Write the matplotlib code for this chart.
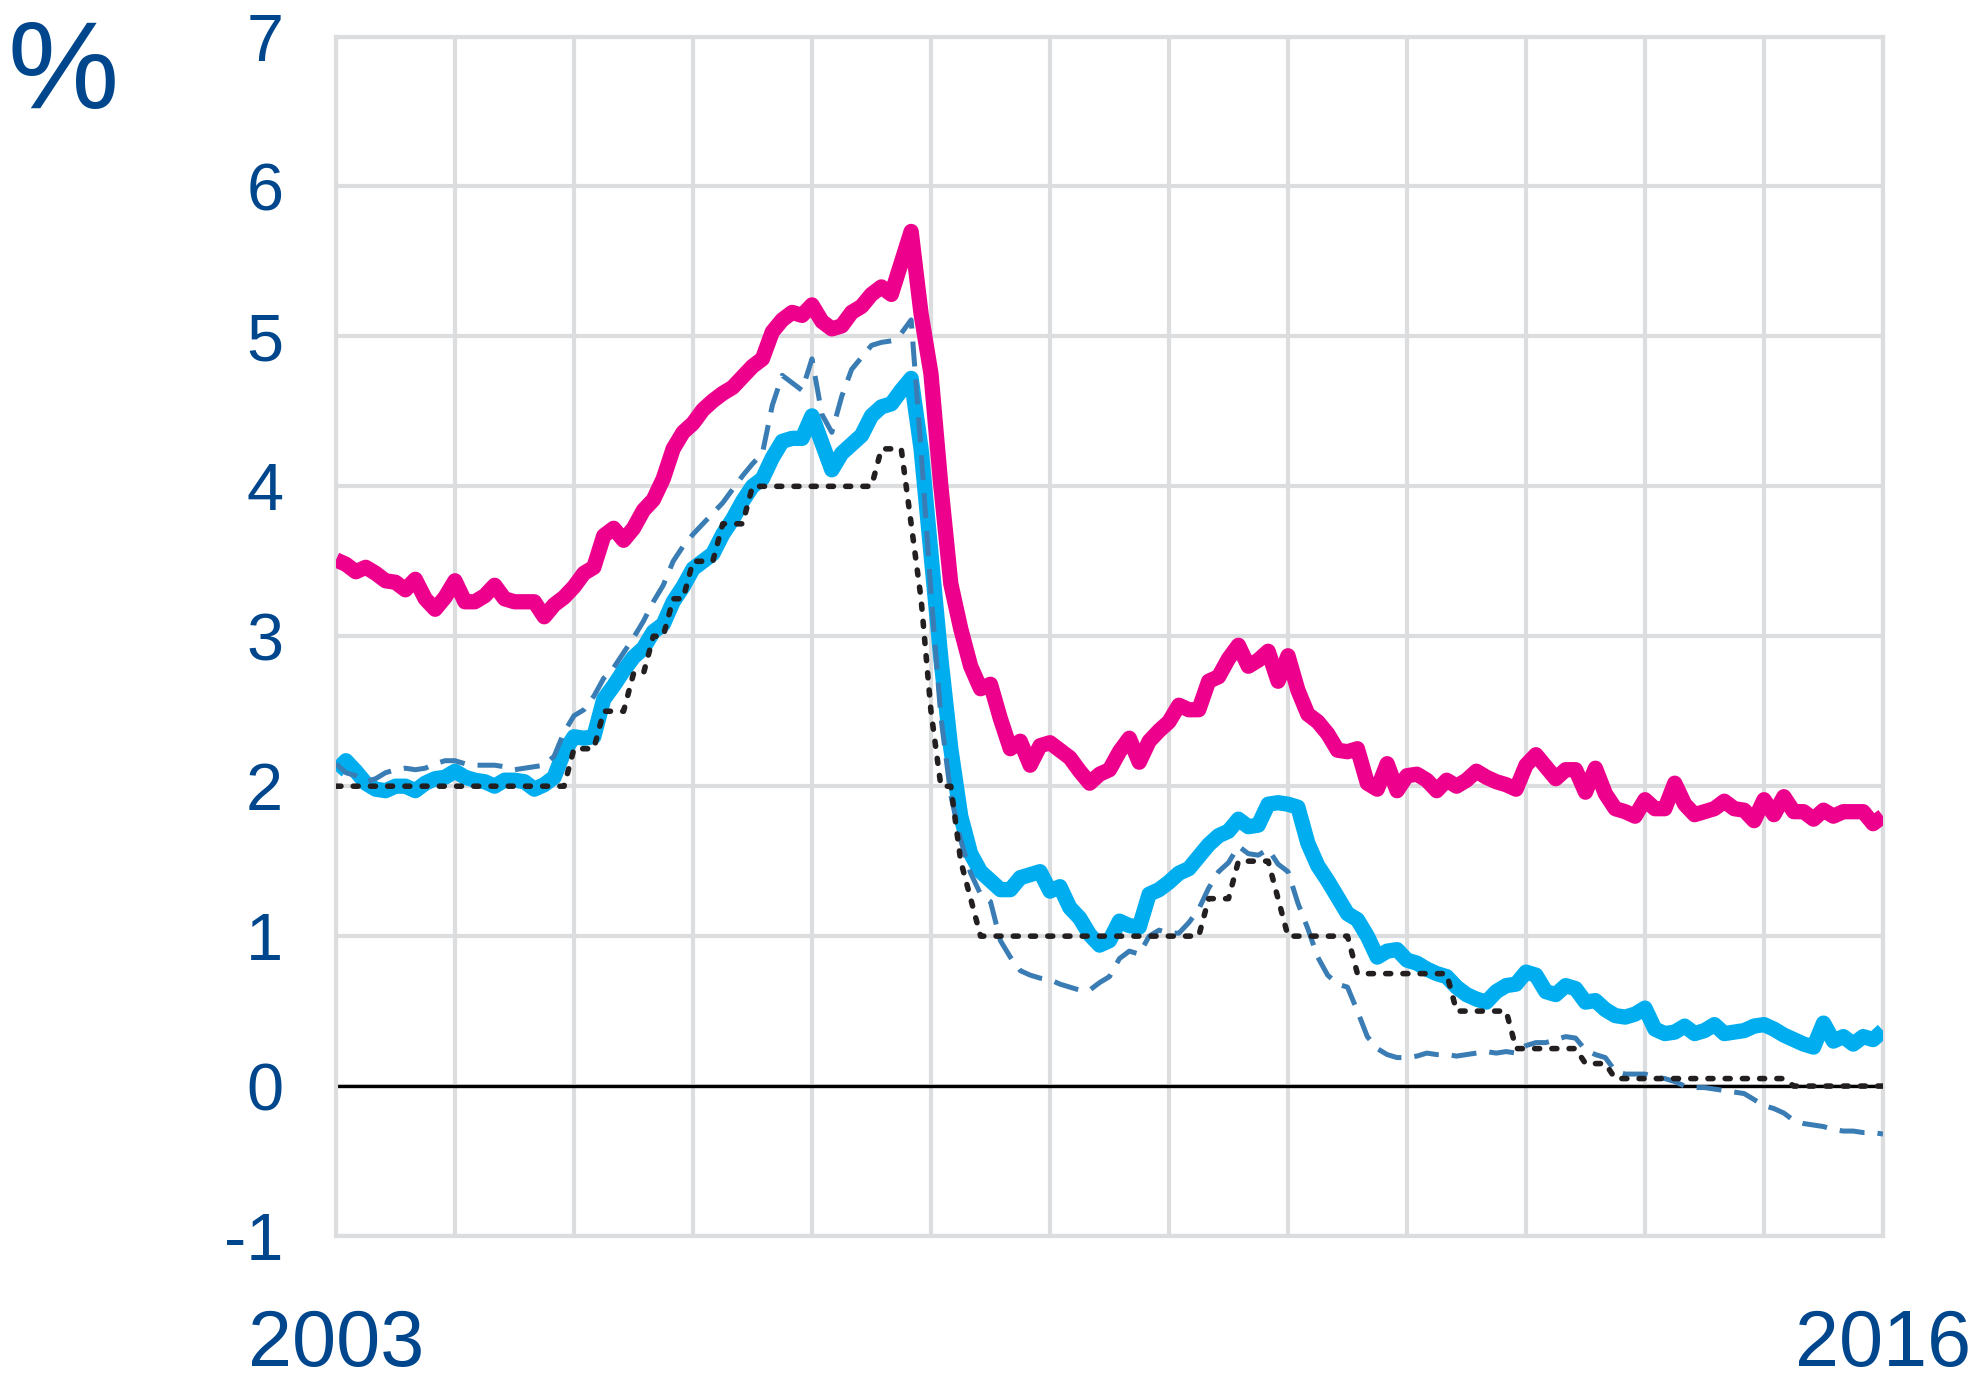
import matplotlib.pyplot as plt
import numpy as np

plt.rcParams['font.family'] = ['Liberation Sans', 'DejaVu Sans']

# monthly readings, one row per year of the chart (first point sits on the 2003 gridline)
rate_magenta = [
    3.51, 3.48, 3.43, 3.46, 3.42, 3.37, 3.36, 3.31, 3.38, 3.25, 3.18, 3.26,
    3.37, 3.23, 3.23, 3.27, 3.34, 3.25, 3.23, 3.23, 3.23, 3.13, 3.21, 3.26,
    3.33, 3.42, 3.46, 3.67, 3.72, 3.64, 3.72, 3.84, 3.91, 4.05, 4.25, 4.36,
    4.42, 4.51, 4.57, 4.62, 4.66, 4.73, 4.80, 4.85, 5.03, 5.11, 5.16, 5.14,
    5.21, 5.10, 5.05, 5.07, 5.16, 5.20, 5.28, 5.33, 5.28, 5.49, 5.70, 5.15,
    4.75, 4.00, 3.35, 3.05, 2.80, 2.65, 2.68, 2.45, 2.25, 2.30, 2.14, 2.27,
    2.29, 2.24, 2.19, 2.10, 2.02, 2.08, 2.11, 2.23, 2.32, 2.16, 2.30, 2.37,
    2.43, 2.54, 2.51, 2.51, 2.70, 2.73, 2.85, 2.94, 2.80, 2.84, 2.90, 2.70,
    2.87, 2.64, 2.48, 2.43, 2.35, 2.24, 2.23, 2.25, 2.02, 1.98, 2.15, 1.97,
    2.07, 2.08, 2.04, 1.97, 2.04, 2.00, 2.04, 2.10, 2.06, 2.03, 2.01, 1.98,
    2.14, 2.21, 2.13, 2.05, 2.11, 2.11, 1.96, 2.12, 1.95, 1.85, 1.83, 1.80,
    1.91, 1.85, 1.85, 2.02, 1.88, 1.81, 1.83, 1.85, 1.90, 1.85, 1.84, 1.77,
    1.91, 1.81, 1.93, 1.83, 1.83, 1.78, 1.84, 1.80, 1.83, 1.83, 1.83, 1.75,
    1.80,
]

rate_cyan = [
    2.10, 2.17, 2.10, 2.02, 1.98, 1.97, 2.00, 2.00, 1.97, 2.02, 2.05, 2.06,
    2.10, 2.06, 2.04, 2.03, 2.00, 2.04, 2.04, 2.03, 1.98, 2.01, 2.06, 2.23,
    2.33, 2.32, 2.33, 2.58, 2.67, 2.77, 2.86, 2.92, 3.03, 3.08, 3.23, 3.33,
    3.45, 3.50, 3.55, 3.68, 3.78, 3.90, 4.00, 4.05, 4.19, 4.30, 4.32, 4.32,
    4.47, 4.29, 4.11, 4.22, 4.28, 4.34, 4.47, 4.53, 4.55, 4.64, 4.72, 4.25,
    3.55, 2.85, 2.25, 1.80, 1.55, 1.43, 1.37, 1.31, 1.31, 1.39, 1.41, 1.43,
    1.30, 1.33, 1.19, 1.12, 1.01, 0.94, 0.97, 1.10, 1.07, 1.06, 1.28, 1.31,
    1.36, 1.42, 1.45, 1.53, 1.61, 1.67, 1.70, 1.78, 1.73, 1.74, 1.88, 1.89,
    1.88, 1.86, 1.62, 1.47, 1.37, 1.26, 1.15, 1.11, 1.00, 0.86, 0.90, 0.91,
    0.84, 0.82, 0.78, 0.75, 0.73, 0.66, 0.61, 0.58, 0.56, 0.63, 0.67, 0.68,
    0.76, 0.74, 0.63, 0.61, 0.67, 0.65, 0.56, 0.57, 0.51, 0.47, 0.46, 0.48,
    0.52, 0.38, 0.35, 0.36, 0.40, 0.35, 0.37, 0.41, 0.35, 0.36, 0.37, 0.40,
    0.41, 0.38, 0.34, 0.31, 0.28, 0.26, 0.42, 0.30, 0.33, 0.28, 0.33, 0.31,
    0.37,
]

rate_dashed = [
    2.15, 2.09, 2.07, 2.03, 2.05, 2.09, 2.11, 2.12, 2.11, 2.12, 2.15, 2.17,
    2.17, 2.15, 2.14, 2.14, 2.14, 2.13, 2.11, 2.12, 2.13, 2.14, 2.20, 2.36,
    2.47, 2.51, 2.60, 2.72, 2.79, 2.89, 2.99, 3.10, 3.23, 3.34, 3.50, 3.60,
    3.68, 3.75, 3.82, 3.89, 3.98, 4.07, 4.15, 4.22, 4.54, 4.74, 4.69, 4.64,
    4.85, 4.48, 4.36, 4.60, 4.78, 4.86, 4.94, 4.96, 4.97, 5.02, 5.11, 4.24,
    3.29, 2.46, 1.94, 1.64, 1.42, 1.28, 1.23, 0.97, 0.86, 0.77, 0.74, 0.72,
    0.71, 0.68, 0.66, 0.64, 0.64, 0.69, 0.73, 0.85, 0.90, 0.88, 1.00, 1.04,
    1.02, 1.02, 1.09, 1.18, 1.32, 1.43, 1.49, 1.60, 1.55, 1.54, 1.58, 1.48,
    1.43, 1.22, 1.05, 0.86, 0.74, 0.68, 0.66, 0.50, 0.33, 0.25, 0.21, 0.19,
    0.19, 0.20, 0.22, 0.21, 0.21, 0.20, 0.21, 0.22, 0.23, 0.22, 0.23, 0.22,
    0.27, 0.29, 0.29, 0.31, 0.33, 0.32, 0.24, 0.21, 0.19, 0.10, 0.08, 0.08,
    0.08, 0.06, 0.05, 0.03, 0.00, -0.01, -0.01, -0.02, -0.03, -0.04, -0.05, -0.09,
    -0.13, -0.15, -0.18, -0.23, -0.25, -0.26, -0.27, -0.29, -0.30, -0.30, -0.31, -0.31,
    -0.32,
]

# policy rate, written as (level repeated for the months it was in force)
rate_dotted = ([2.00] * 24 + [2.25] * 3 + [2.50] * 3 + [2.75] * 2 + [3.00] * 2
               + [3.25] * 2 + [3.50] * 3 + [3.75] * 3 + [4.00] * 13 + [4.25] * 3
               + [3.75] + [3.25] + [2.50] + [2.00] * 2 + [1.50] + [1.25]
               + [1.00] * 23 + [1.25] * 3 + [1.50] * 4 + [1.25] + [1.00] * 7
               + [0.75] * 10 + [0.50] * 6 + [0.25] * 7 + [0.15] * 3
               + [0.05] * 18 + [0.00] * 10)

years = list(range(2003, 2017))
year_labels = ['2003'] + [''] * 12 + ['2016']
y_ticks = [-1, 0, 1, 2, 3, 4, 5, 6, 7]
y_labels = ['-1', '0', '1', '2', '3', '4', '5', '6', '7']

blue_text = '#00468C'
grid_grey = '#dcdddf'

# monthly positions starting at the first gridline
x = years[0] + np.arange(len(rate_dashed)) / 12

fig = plt.figure(figsize=(19.74, 13.88), dpi=100)
ax = fig.add_axes([0.1702, 0.1095, 0.7837, 0.8642])

ax.axhline(0, color='black', lw=2.4, zorder=2)
ax.plot(x, rate_cyan, color='#00AEEF', lw=11, solid_joinstyle='round',
        solid_capstyle='butt', zorder=3)
ax.plot(x, rate_magenta, color='#EC008C', lw=11, solid_joinstyle='round',
        solid_capstyle='butt', zorder=3)
ax.plot(x, rate_dashed, color='#3A7DB4', lw=3.6, dashes=(5, 2.6), zorder=4)
ax.plot(x, rate_dotted, color='#231F20', lw=4, dashes=(0.9, 2.2),
        dash_capstyle='round', zorder=5)

ax.set_xlim(years[0], years[-1])
ax.set_ylim(-1, 7)
ax.set_xticks(years)
ax.set_xticklabels(year_labels)
ax.set_yticks(y_ticks)
ax.set_yticklabels(y_labels)

ax.grid(True, color=grid_grey, lw=3)
ax.set_axisbelow(True)
for side in ['left', 'right', 'top', 'bottom']:
    ax.spines[side].set_color(grid_grey)
    ax.spines[side].set_linewidth(3)

ax.tick_params(axis='both', length=0, colors=blue_text)
ax.tick_params(axis='y', labelsize=48, pad=38)
ax.tick_params(axis='x', labelsize=57, pad=52)

fig.text(0.004, 0.9222, '%', fontsize=90, color=blue_text, va='baseline', ha='left')

plt.savefig('out.png', dpi=100)
